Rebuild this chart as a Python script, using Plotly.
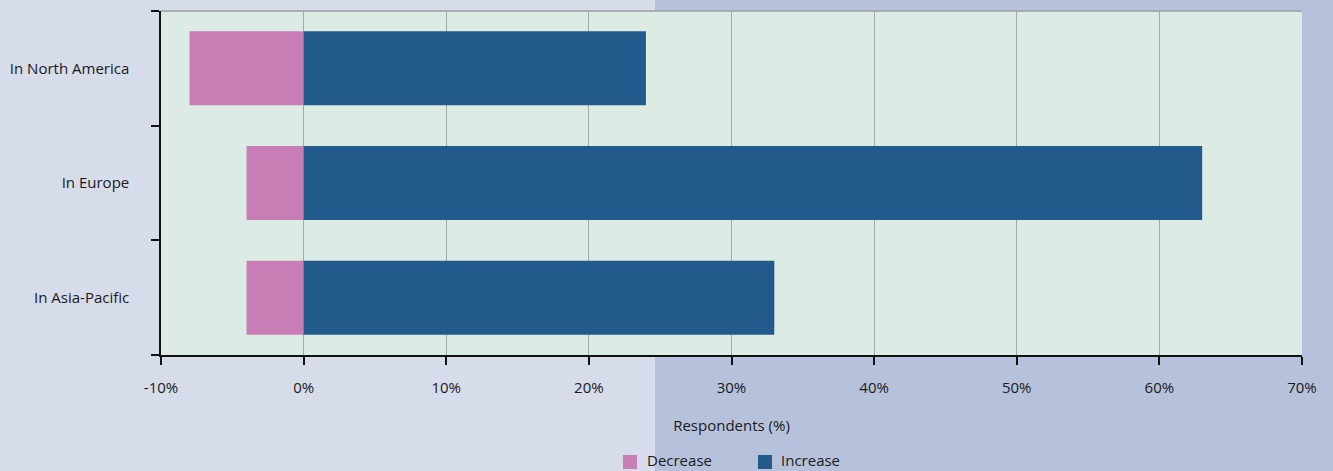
import plotly.graph_objects as go

regions = ["In North America", "In Europe", "In Asia-Pacific"]
decrease = [-8, -4, -4]
increase = [24, 63, 33]
x_ticks = [-10, 0, 10, 20, 30, 40, 50, 60, 70]
x_tick_labels = [f"{v}%" for v in x_ticks]

series_names = ["Decrease", "Increase"]
series_colors = ["#c97db5", "#235a8c"]

W, H = 1333, 471
ML, MR, MT, MB = 161, 31, 11, 116
PW, PH = W - ML - MR, H - MT - MB

def px_to_paper_x(px):
    return (px - ML) / PW

def px_to_paper_y(py):
    return (H - MB - py) / PH

FONT = "Open Sans"
FS = 15

fig = go.Figure()
for name, vals, color in zip(series_names, [decrease, increase], series_colors):
    fig.add_trace(go.Bar(
        y=regions, x=vals, orientation="h", name=name,
        marker=dict(color=color, line=dict(width=0)), width=0.645,
        showlegend=False,
    ))

shapes = [
    # two-tone page background
    dict(type="rect", xref="paper", yref="paper", layer="below",
         x0=px_to_paper_x(0), x1=px_to_paper_x(655),
         y0=px_to_paper_y(H), y1=px_to_paper_y(0),
         fillcolor="#d6dcea", line=dict(width=0)),
    dict(type="rect", xref="paper", yref="paper", layer="below",
         x0=px_to_paper_x(655), x1=px_to_paper_x(W),
         y0=px_to_paper_y(H), y1=px_to_paper_y(0),
         fillcolor="#b6c2dc", line=dict(width=0)),
    # plot area
    dict(type="rect", xref="paper", yref="paper", layer="below",
         x0=0, x1=1, y0=0, y1=1,
         fillcolor="#dcebe4", line=dict(width=0)),
    # top border
    dict(type="line", xref="paper", yref="paper", layer="above",
         x0=0, x1=1, y0=1, y1=1, line=dict(color="#9a9fa3", width=1.5)),
]

# hand-placed legend along the bottom edge
annotations = []
legend_items = [(623, 645), (758, 779)]
for (sx, tx), name, color in zip(legend_items, series_names, series_colors):
    shapes.append(dict(type="rect", xref="paper", yref="paper", layer="above",
                       x0=px_to_paper_x(sx), x1=px_to_paper_x(sx + 14),
                       y0=px_to_paper_y(469), y1=px_to_paper_y(455),
                       fillcolor=color, line=dict(width=0)))
    annotations.append(dict(xref="paper", yref="paper", showarrow=False,
                            x=px_to_paper_x(tx), y=px_to_paper_y(460),
                            xanchor="left", yanchor="middle", text=name,
                            font=dict(family=FONT, size=FS, color="#1a1a1a")))

fig.update_layout(
    width=W, height=H,
    margin=dict(l=ML, r=MR, t=MT, b=MB),
    barmode="relative",
    paper_bgcolor="#d6dcea",
    plot_bgcolor="rgba(0,0,0,0)",
    font=dict(family=FONT, size=FS, color="#1a1a1a"),
    shapes=shapes,
    annotations=annotations,
    showlegend=False,
    xaxis=dict(
        range=[-10, 70], tickvals=x_ticks, ticktext=x_tick_labels,
        showgrid=True, gridcolor="#a3a8a8", gridwidth=1,
        zeroline=False,
        showline=True, linecolor="#111111", linewidth=1.5,
        ticks="outside", ticklen=8, tickcolor="#111111", tickwidth=1.5,
        ticklabelstandoff=10,
        title=dict(text="Respondents (%)", standoff=25, font=dict(size=FS)),
        fixedrange=True,
    ),
    yaxis=dict(
        type="category", categoryorder="array", categoryarray=regions[::-1],
        range=[-0.5, 2.5], tickson="boundaries",
        showgrid=False, zeroline=False,
        showline=True, linecolor="#111111", linewidth=1.5,
        ticks="outside", ticklen=8, tickcolor="#111111", tickwidth=1.5,
        ticklabelstandoff=27,
        fixedrange=True,
    ),
)

fig.write_html("out.html")
